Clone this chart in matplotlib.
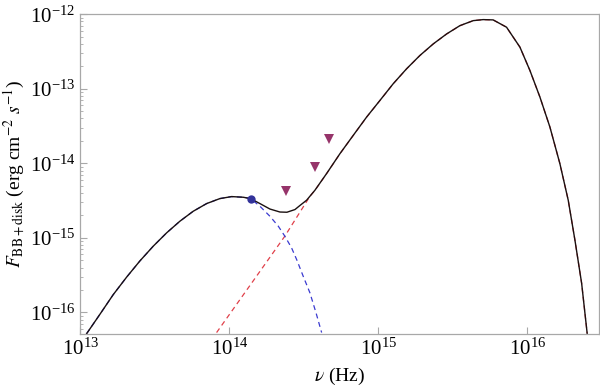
import numpy as np
import matplotlib
matplotlib.use('Agg')
import matplotlib.pyplot as plt
from matplotlib.ticker import FixedLocator, NullLocator, NullFormatter

# values (log10 of frequency in Hz and of flux in erg cm^-2 s^-1)
cool_lognu = [13.042, 13.131, 13.220, 13.310, 13.399, 13.489, 13.579, 13.668, 13.757,
              13.847, 13.936, 14.015, 14.093, 14.142, 14.205, 14.272, 14.328, 14.372,
              14.417, 14.451, 14.495, 14.540, 14.581, 14.619]
cool_logf = [-16.284, -16.025, -15.762, -15.527, -15.310, -15.111, -14.932, -14.776, -14.643,
             -14.540, -14.473, -14.446, -14.455, -14.473, -14.576, -14.710, -14.843, -14.977,
             -15.133, -15.289, -15.513, -15.735, -16.003, -16.270]

disk_lognu = [13.914, 14.143, 14.372, 14.451, 14.540, 14.574, 14.652, 14.742, 14.831, 14.921,
              15.010, 15.099, 15.189, 15.278, 15.368, 15.458, 15.547, 15.636, 15.703, 15.770,
              15.860, 15.950, 16.017, 16.084, 16.151, 16.218, 16.274, 16.319, 16.364, 16.401]
disk_logf = [-16.270, -15.624, -14.977, -14.726, -14.443, -14.362, -14.139, -13.871, -13.626,
             -13.380, -13.158, -12.934, -12.733, -12.555, -12.399, -12.265, -12.154, -12.087,
             -12.072, -12.076, -12.174, -12.442, -12.755, -13.111, -13.513, -14.004, -14.495,
             -15.031, -15.610, -16.280]

total_lognu = [13.042, 13.131, 13.220, 13.310, 13.399, 13.489, 13.579, 13.668, 13.757,
               13.847, 13.936, 14.015, 14.093, 14.142, 14.205, 14.272, 14.339, 14.386,
               14.440, 14.473, 14.518, 14.574, 14.652, 14.742, 14.831, 14.921, 15.010,
               15.099, 15.189, 15.278, 15.368, 15.458, 15.547, 15.636, 15.703, 15.770,
               15.860, 15.950, 16.017, 16.084, 16.151, 16.218, 16.274, 16.319, 16.364, 16.401]
total_logf = [-16.284, -16.025, -15.762, -15.527, -15.310, -15.111, -14.932, -14.776, -14.643,
              -14.540, -14.473, -14.446, -14.455, -14.473, -14.540, -14.613, -14.653, -14.656,
              -14.620, -14.566, -14.495, -14.361, -14.138, -13.870, -13.625, -13.379, -13.157,
              -12.933, -12.732, -12.554, -12.398, -12.264, -12.153, -12.086, -12.072, -12.076,
              -12.174, -12.442, -12.755, -13.111, -13.513, -14.004, -14.495, -15.031, -15.610,
              -16.280]

# upper limits and the one detection
limit_nu = [2.39e14, 3.75e14, 4.66e14]
limit_f = [4.3e-15, 9.0e-15, 2.14e-14]
detect_nu = [1.39e14]
detect_f = [3.36e-15]

# tick positions
x_ticks = [1e13, 1e14, 1e15, 1e16]
y_ticks = [1e-16, 1e-15, 1e-14, 1e-13, 1e-12]

plt.rcParams['font.family'] = ['Liberation Serif', 'DejaVu Serif']
plt.rcParams['mathtext.fontset'] = 'stix'

fig = plt.figure(figsize=(6, 3.9), dpi=100)
ax = fig.add_axes([0.134, 0.143, 0.8635, 0.8205])

ax.plot(10 ** np.array(disk_lognu), 10 ** np.array(disk_logf), color='#e0404a',
        lw=0.9, dashes=(4, 3))
ax.plot(10 ** np.array(cool_lognu), 10 ** np.array(cool_logf), color='#3a3ad0',
        lw=0.9, dashes=(4, 3))
ax.plot(10 ** np.array(total_lognu), 10 ** np.array(total_logf), color='#1a1010', lw=1.0)

ax.plot(limit_nu, limit_f, linestyle='none', marker='v', markersize=7,
        color='#96346a', markeredgewidth=0)
ax.plot(detect_nu, detect_f, linestyle='none', marker='o', markersize=6,
        color='#33339a', markeredgewidth=0)

ax.set_xscale('log')
ax.set_yscale('log')
ax.set_xlim(1e13, 3.0e16)
ax.set_ylim(5.1e-17, 1e-12)

ax.xaxis.set_major_locator(FixedLocator(x_ticks))
ax.yaxis.set_major_locator(FixedLocator(y_ticks))
ax.xaxis.set_minor_locator(NullLocator())
minor_y = [m * 10.0 ** e for e in range(-17, -12) for m in range(2, 10)]
minor_y = [v for v in minor_y if 5.1e-17 < v < 1e-12]
ax.yaxis.set_minor_locator(FixedLocator(minor_y))
ax.yaxis.set_minor_formatter(NullFormatter())

for side in ax.spines.values():
    side.set_color('#a8a8a8')
    side.set_linewidth(0.9)
ax.tick_params(which='both', direction='in', color='#a8a8a8', top=False, right=False,
               labelsize=15)
ax.tick_params(which='major', length=5)
ax.tick_params(which='minor', length=2.5)

ax.set_xlabel(r'$\nu$ (Hz)', fontsize=14)
ax.set_ylabel(r'$F_{\rm BB+disk}$ (erg cm$^{-2}$ $s^{-1}$)', fontsize=14, labelpad=2)

fig.savefig('out.png', dpi=100)
